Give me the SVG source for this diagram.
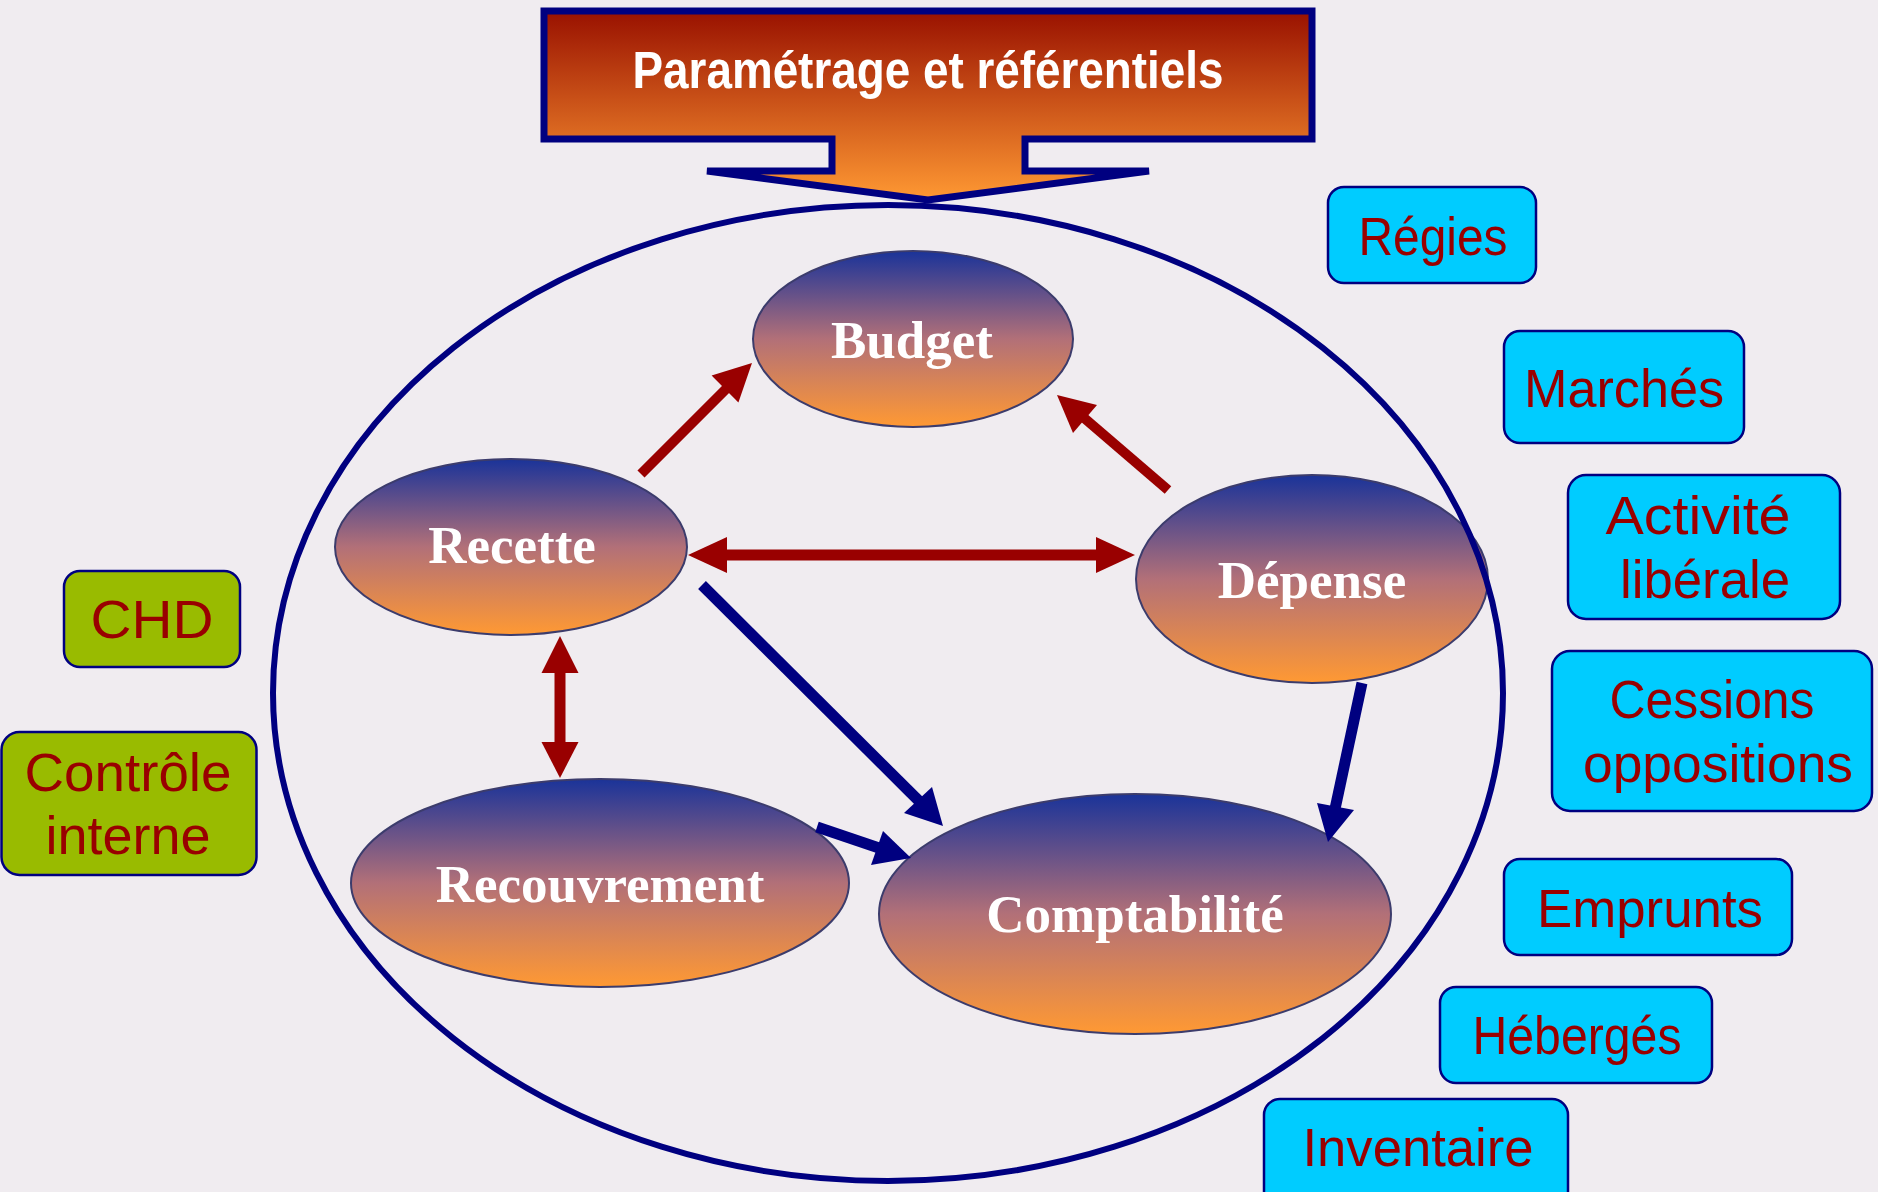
<svg xmlns="http://www.w3.org/2000/svg" width="1878" height="1192" viewBox="0 0 1878 1192">
  <defs>
    <linearGradient id="gNode" x1="0" y1="0" x2="0" y2="1">
      <stop offset="0" stop-color="#1a3399"/>
      <stop offset="0.5" stop-color="#b27078"/>
      <stop offset="1" stop-color="#ff9933"/>
    </linearGradient>
    <linearGradient id="gTitle" gradientUnits="userSpaceOnUse" x1="0" y1="11" x2="0" y2="200">
      <stop offset="0" stop-color="#991100"/>
      <stop offset="1" stop-color="#ff9933"/>
    </linearGradient>
    <style>
      .node { fill: url(#gNode); stroke: #3c3c6c; stroke-width: 2; }
      .nlabel { font-family: "Liberation Serif", "Times New Roman", serif; font-weight: bold; font-size: 53px; fill: #ffffff; text-anchor: middle; }
      .cyan { fill: #00ccff; stroke: #000080; stroke-width: 2.5; }
      .green { fill: #99bb00; stroke: #000080; stroke-width: 2.5; }
      .blabel { font-family: "Liberation Sans", Arial, sans-serif; font-size: 53px; fill: #990000; text-anchor: middle; }
      .red { stroke: #990000; fill: none; }
      .redh { fill: #990000; }
      .blue { stroke: #000080; fill: none; }
      .blueh { fill: #000080; }
    </style>
  </defs>
  <rect x="0" y="0" width="1878" height="1192" fill="#f0ecf0"/>

  <g id="title">
    <path d="M544,11 H1312 V139 H1025 V171 H1149 L928,200 L707,171 H832 V139 H544 Z" fill="url(#gTitle)" stroke="#000080" stroke-width="7" stroke-linejoin="miter" stroke-miterlimit="3"/>
    <text x="928" y="88" font-family="'Liberation Sans Narrow', 'Liberation Sans', Arial, sans-serif" font-size="51" font-weight="bold" fill="#ffffff" text-anchor="middle" textLength="591" lengthAdjust="spacingAndGlyphs">Paramétrage et référentiels</text>
  </g>

  <g id="node-budget">
    <ellipse class="node" cx="913" cy="339" rx="160" ry="88"/>
    <text class="nlabel" x="912" y="358">Budget</text>
  </g>
  <g id="node-recette">
    <ellipse class="node" cx="511" cy="547" rx="176" ry="88"/>
    <text class="nlabel" x="512" y="563">Recette</text>
  </g>
  <g id="node-depense">
    <ellipse class="node" cx="1312" cy="579" rx="176" ry="104"/>
    <text class="nlabel" x="1312" y="598">Dépense</text>
  </g>
  <g id="node-recouvrement">
    <ellipse class="node" cx="600" cy="883" rx="249" ry="104"/>
    <text class="nlabel" x="600" y="902">Recouvrement</text>
  </g>
  <g id="node-comptabilite">
    <ellipse class="node" cx="1135" cy="914" rx="256" ry="120"/>
    <text class="nlabel" x="1135" y="932">Comptabilité</text>
  </g>

  <g id="scope">
    <ellipse cx="888" cy="693" rx="615" ry="488" fill="none" stroke="#000080" stroke-width="6"/>
  </g>

  <g id="connectors">
    <!-- Recette -> Budget -->
    <line class="red" x1="641" y1="474" x2="728" y2="387" stroke-width="10"/>
    <polygon class="redh" points="752,363 738.4,402.4 711.6,375.6"/>
    <!-- Depense -> Budget -->
    <line class="red" x1="1168" y1="490" x2="1083" y2="417" stroke-width="10"/>
    <polygon class="redh" points="1057,395 1073,433 1097,405"/>
    <!-- Recette <-> Depense -->
    <line class="red" x1="725" y1="555" x2="1098" y2="555" stroke-width="11"/>
    <polygon class="redh" points="688,555 727,537 727,573"/>
    <polygon class="redh" points="1135,555 1096,537 1096,573"/>
    <!-- Recette <-> Recouvrement -->
    <line class="red" x1="560" y1="671" x2="560" y2="744" stroke-width="11"/>
    <polygon class="redh" points="560,636 541.5,673 578.5,673"/>
    <polygon class="redh" points="560,778 541.5,742 578.5,742"/>
    <!-- Recette -> Comptabilite -->
    <line class="blue" x1="702" y1="585" x2="920" y2="802" stroke-width="11"/>
    <polygon class="blueh" points="943,826 904,813 932,787"/>
    <!-- Depense -> Comptabilite -->
    <line class="blue" x1="1362" y1="683" x2="1335" y2="809" stroke-width="11"/>
    <polygon class="blueh" points="1328,842 1317,803 1354,810"/>
    <!-- Recouvrement -> Comptabilite -->
    <line class="blue" x1="817" y1="827" x2="879" y2="848" stroke-width="11"/>
    <polygon class="blueh" points="911,858 871,865 883,831"/>
  </g>

  <g id="box-regies">
    <rect class="cyan" x="1328" y="187" width="208" height="96" rx="16"/>
    <text class="blabel" x="1433" y="255" textLength="149" lengthAdjust="spacingAndGlyphs">Régies</text>
  </g>
  <g id="box-marches">
    <rect class="cyan" x="1504" y="331" width="240" height="112" rx="16"/>
    <text class="blabel" x="1624" y="407" textLength="200" lengthAdjust="spacingAndGlyphs">Marchés</text>
  </g>
  <g id="box-activite">
    <rect class="cyan" x="1568" y="475" width="272" height="144" rx="18"/>
    <text class="blabel" x="1698" y="534" textLength="185" lengthAdjust="spacingAndGlyphs">Activité</text>
    <text class="blabel" x="1705" y="598" textLength="170" lengthAdjust="spacingAndGlyphs">libérale</text>
  </g>
  <g id="box-cessions">
    <rect class="cyan" x="1552" y="651" width="320" height="160" rx="18"/>
    <text class="blabel" x="1712" y="718" textLength="205" lengthAdjust="spacingAndGlyphs">Cessions</text>
    <text class="blabel" x="1718" y="782" textLength="270" lengthAdjust="spacingAndGlyphs">oppositions</text>
  </g>
  <g id="box-emprunts">
    <rect class="cyan" x="1504" y="859" width="288" height="96" rx="16"/>
    <text class="blabel" x="1650" y="927" textLength="226" lengthAdjust="spacingAndGlyphs">Emprunts</text>
  </g>
  <g id="box-heberges">
    <rect class="cyan" x="1440" y="987" width="272" height="96" rx="16"/>
    <text class="blabel" x="1577" y="1054" textLength="209" lengthAdjust="spacingAndGlyphs">Hébergés</text>
  </g>
  <g id="box-inventaire">
    <rect class="cyan" x="1264" y="1099" width="304" height="112" rx="16"/>
    <text class="blabel" x="1418" y="1166" textLength="231" lengthAdjust="spacingAndGlyphs">Inventaire</text>
  </g>
  <g id="box-chd">
    <rect class="green" x="64" y="571" width="176" height="96" rx="16"/>
    <text class="blabel" x="152" y="638" textLength="123" lengthAdjust="spacingAndGlyphs">CHD</text>
  </g>
  <g id="box-controle">
    <rect class="green" x="1.5" y="732" width="255" height="143" rx="18"/>
    <text class="blabel" x="128" y="791" textLength="207" lengthAdjust="spacingAndGlyphs">Contrôle</text>
    <text class="blabel" x="128" y="854" textLength="165" lengthAdjust="spacingAndGlyphs">interne</text>
  </g>
</svg>
